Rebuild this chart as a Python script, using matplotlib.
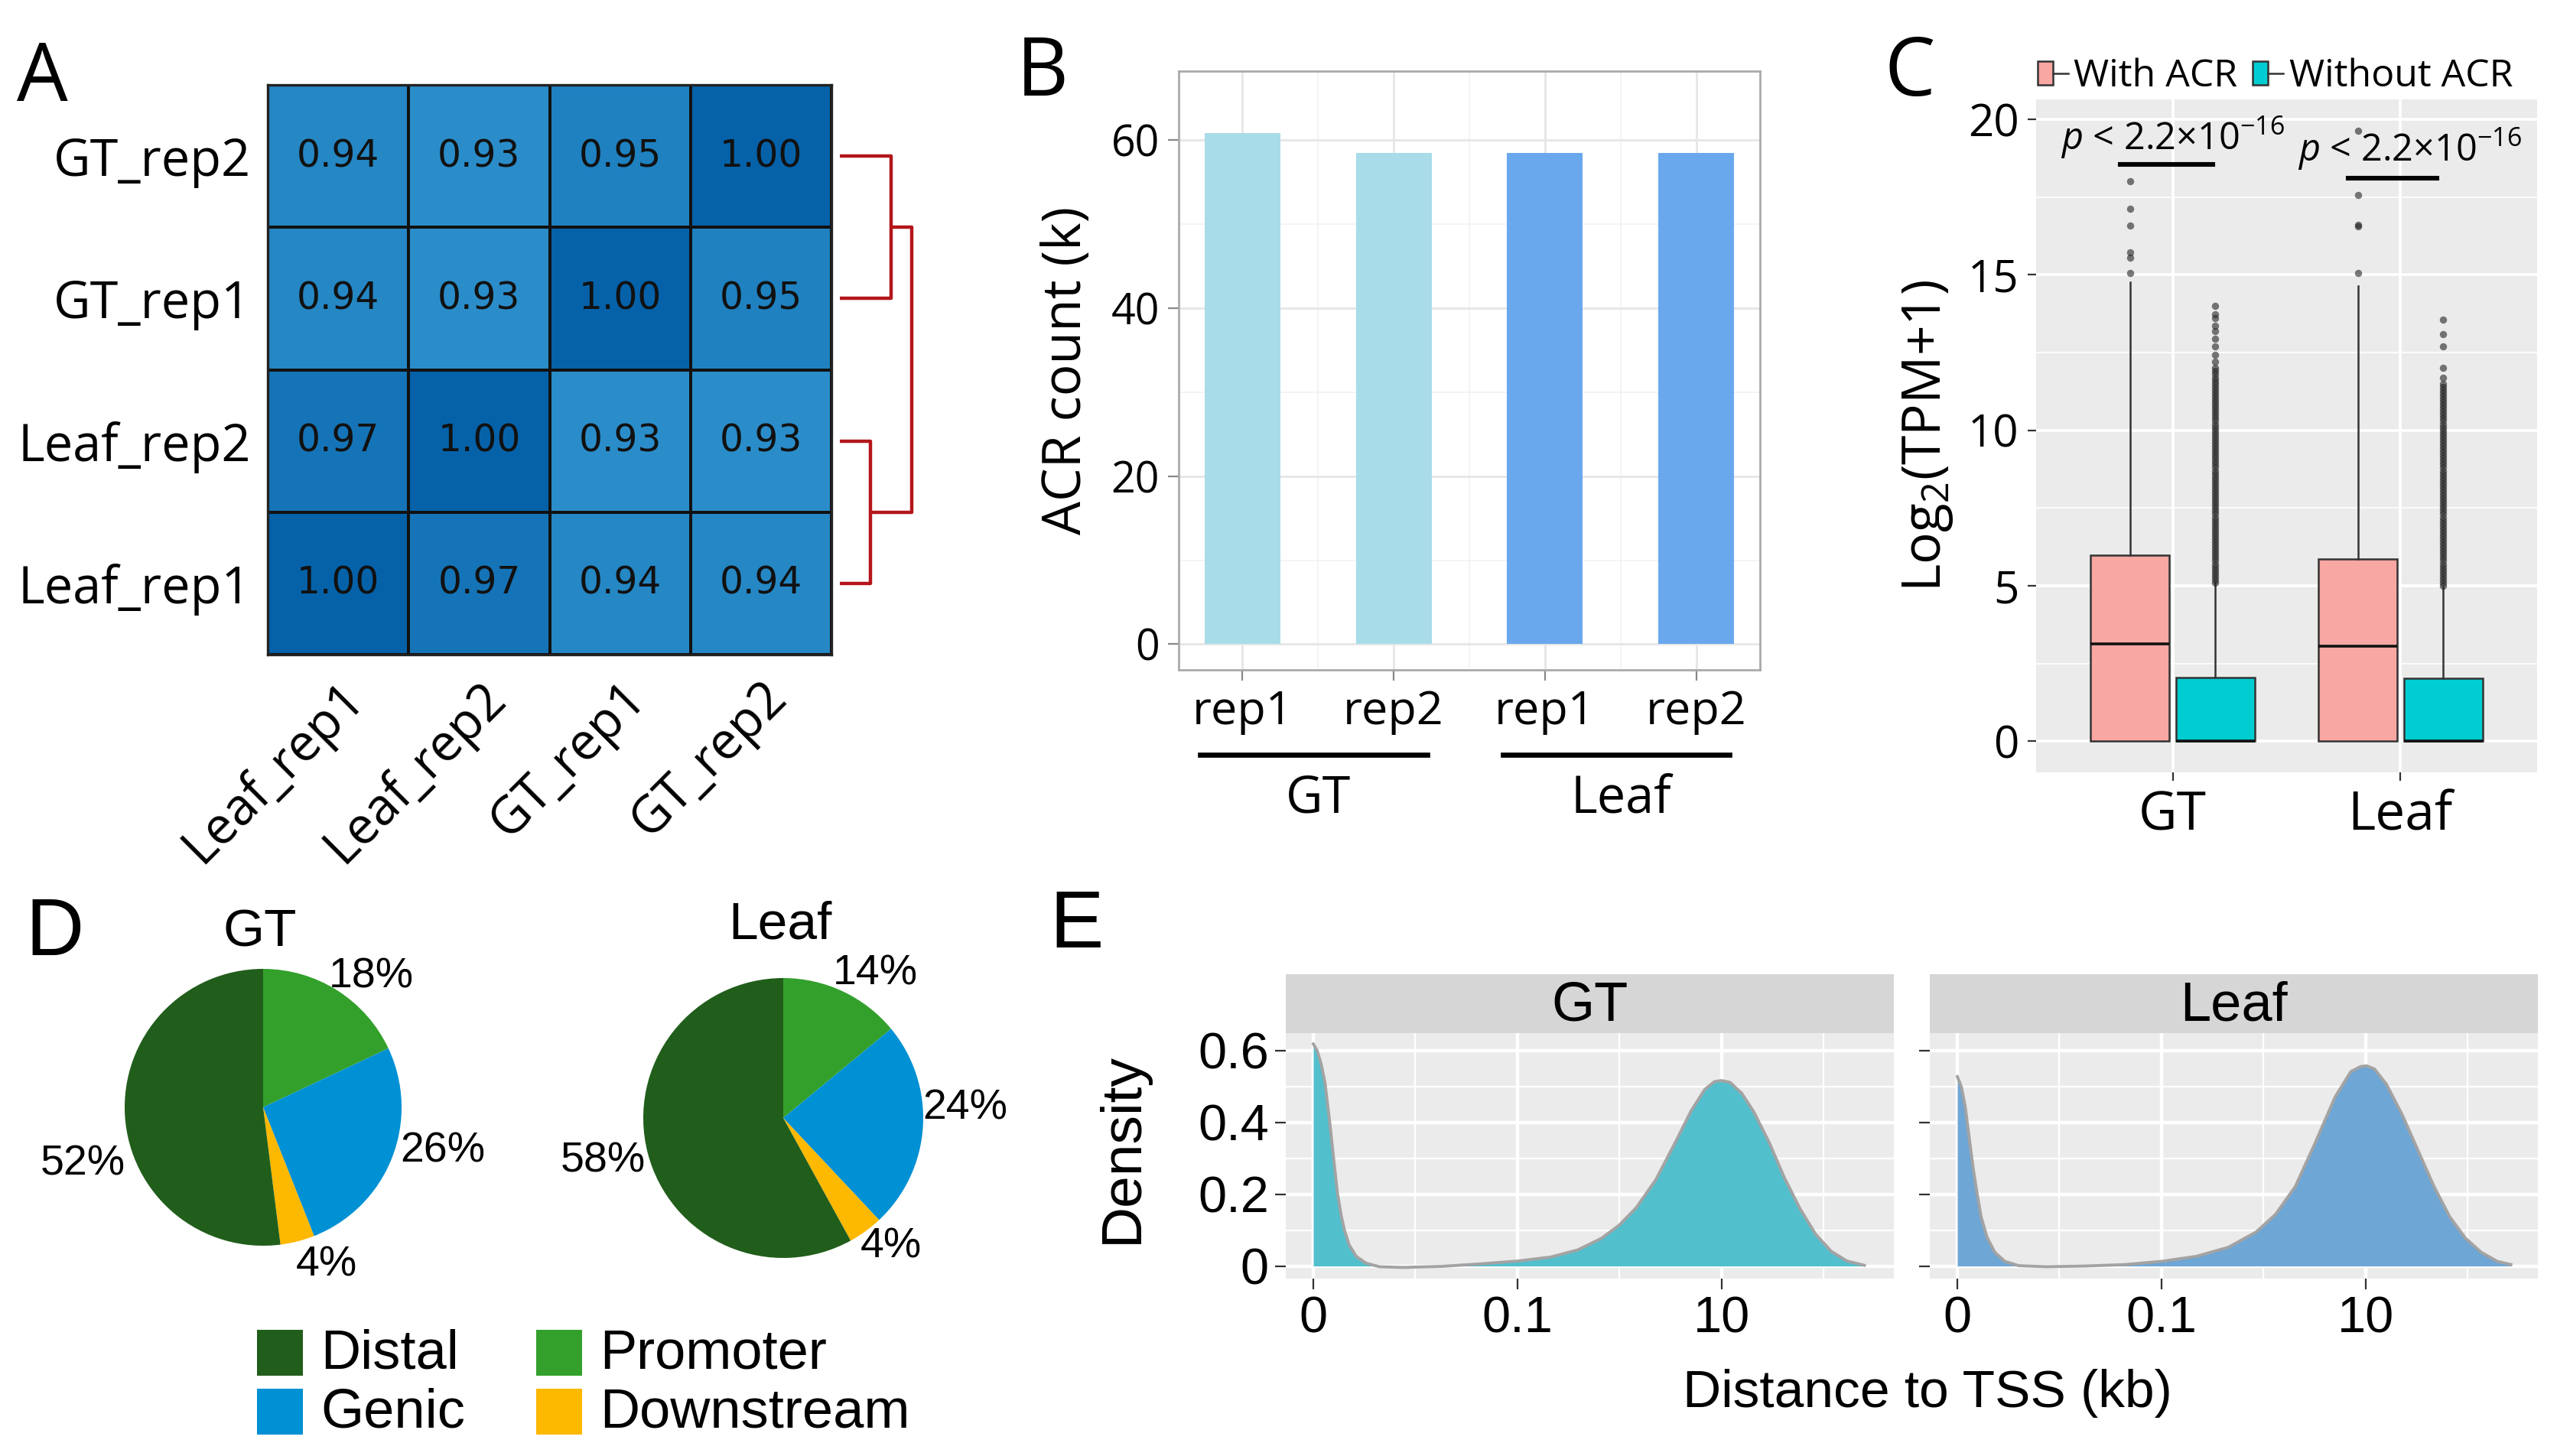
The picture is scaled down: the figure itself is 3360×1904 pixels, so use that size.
import numpy as np
import matplotlib
matplotlib.use('Agg')
import matplotlib.pyplot as plt
from matplotlib.colors import LinearSegmentedColormap, Normalize
from matplotlib.patches import Rectangle, Patch
from matplotlib.lines import Line2D
from matplotlib.legend_handler import HandlerTuple

plt.rcParams['font.family'] = ['Open Sans', 'DejaVu Sans']
plt.rcParams['mathtext.fontset'] = 'custom'
plt.rcParams['mathtext.rm'] = 'Open Sans'
plt.rcParams['mathtext.it'] = 'Open Sans:italic'

# ---- data ----
# A: correlation heatmap
hm_rows = ['GT_rep2', 'GT_rep1', 'Leaf_rep2', 'Leaf_rep1']
hm_cols = ['Leaf_rep1', 'Leaf_rep2', 'GT_rep1', 'GT_rep2']
hm_vals = [[0.94, 0.93, 0.95, 1.00],
           [0.94, 0.93, 1.00, 0.95],
           [0.97, 1.00, 0.93, 0.93],
           [1.00, 0.97, 0.94, 0.94]]
# dendrogram merge heights
leaf_join = 0.03
gt_join = 0.05
root_join = 0.07

# B: ACR counts (k)
b_reps = ['rep1', 'rep2', 'rep1', 'rep2']
b_groups = ['GT', 'Leaf']
acr_counts = [60.8, 58.5, 58.5, 58.5]

# C: boxplots log2(TPM+1)
c_groups = ['GT', 'Leaf']
with_q1 = [0, 0]
with_med = [3.12, 3.05]
with_q3 = [5.98, 5.86]
with_hi = [14.77, 14.63]
with_fliers = [[15.05, 15.56, 15.72, 16.59, 17.13, 18.01],
               [15.07, 16.56, 16.6, 17.57, 19.63]]
without_q1 = [0, 0]
without_med = [0, 0]
without_q3 = [2.05, 2.02]
without_hi = [5.09, 4.95]
without_fliers = [
    [5.1, 5.2, 5.3, 5.4, 5.5, 5.6, 5.7, 5.8, 5.9, 6.0, 6.1, 6.2, 6.3, 6.4, 6.5,
     6.6, 6.7, 6.8, 6.9, 7.0, 7.1, 7.2, 7.3, 7.4, 7.5, 7.6, 7.7, 7.8, 7.9, 8.0,
     8.1, 8.2, 8.3, 8.4, 8.5, 8.6, 8.7, 8.8, 8.9, 9.0, 9.1, 9.2, 9.3, 9.4, 9.5,
     9.6, 9.7, 9.8, 9.9, 10.0, 10.1, 10.2, 10.3, 10.4, 10.5, 10.6, 10.7, 10.8,
     10.9, 11.0, 11.1, 11.2, 11.3, 11.4, 11.5, 11.6, 11.7, 11.8, 11.9, 12.0,
     12.2, 12.43, 12.7, 12.94, 13.2, 13.36, 13.6, 13.74, 14.0],
    [5.0, 5.1, 5.2, 5.3, 5.4, 5.5, 5.6, 5.7, 5.8, 5.9, 6.0, 6.1, 6.2, 6.3, 6.4,
     6.5, 6.6, 6.7, 6.8, 6.9, 7.0, 7.1, 7.2, 7.3, 7.4, 7.5, 7.6, 7.7, 7.8, 7.9,
     8.0, 8.1, 8.2, 8.3, 8.4, 8.5, 8.6, 8.7, 8.8, 8.9, 9.0, 9.1, 9.2, 9.3, 9.4,
     9.5, 9.6, 9.7, 9.8, 9.9, 10.0, 10.1, 10.2, 10.3, 10.4, 10.5, 10.6, 10.7,
     10.8, 10.9, 11.0, 11.1, 11.2, 11.3, 11.4, 11.5, 11.68, 12.0, 12.7, 13.08,
     13.55]]
p_text = r'$p$ < 2.2×10$^{-16}$'

# D: pies
pie_cats = ['Promoter', 'Genic', 'Downstream', 'Distal']
gt_pct = [18, 26, 4, 52]
leaf_pct = [14, 24, 4, 58]

# E: density of distance to TSS (x = log10(kb + 0.001))
gt_x = [-3.0, -2.962, -2.924, -2.885, -2.84, -2.802, -2.763, -2.725, -2.695,
        -2.649, -2.58, -2.485, -2.351, -2.122, -1.74, -1.359, -0.989, -0.672,
        -0.405, -0.176, -0.004, 0.168, 0.359, 0.55, 0.702, 0.836, 0.931, 1.0,
        1.084, 1.198, 1.313, 1.466, 1.618, 1.771, 1.924, 2.076, 2.229, 2.401]
gt_y = [0.618, 0.599, 0.563, 0.509, 0.402, 0.302, 0.202, 0.138, 0.1, 0.059,
        0.027, 0.008, -0.002, -0.004, -0.001, 0.006, 0.014, 0.025, 0.045,
        0.077, 0.113, 0.163, 0.241, 0.345, 0.431, 0.491, 0.513, 0.516, 0.511,
        0.481, 0.431, 0.345, 0.245, 0.159, 0.088, 0.041, 0.014, 0.002]
leaf_x = [-3.0, -2.961, -2.922, -2.884, -2.845, -2.806, -2.767, -2.709, -2.632,
          -2.535, -2.399, -2.128, -1.74, -1.353, -0.996, -0.655, -0.345,
          -0.074, 0.12, 0.314, 0.508, 0.702, 0.857, 0.953, 1.012, 1.089, 1.205,
          1.36, 1.516, 1.671, 1.826, 1.981, 2.136, 2.291, 2.426]
leaf_y = [0.527, 0.499, 0.442, 0.357, 0.272, 0.201, 0.137, 0.08, 0.038, 0.013,
          0.001, -0.002, 0.0, 0.004, 0.013, 0.027, 0.052, 0.094, 0.144, 0.222,
          0.343, 0.47, 0.541, 0.555, 0.557, 0.548, 0.506, 0.421, 0.321, 0.222,
          0.137, 0.077, 0.038, 0.013, 0.004]
e_ticks = [-3, -1, 1]
e_ticklabels = ['0', '0.1', '10']

# ---- figure ----
W, H = 3360, 1904
fig = plt.figure(figsize=(W / 200, H / 200), dpi=200)


def box(l, t, r, b):
    return [l / W, 1 - b / H, (r - l) / W, (b - t) / H]


def fx(x):
    return x / W


def fy(y):
    return 1 - y / H


# ---------- A ----------
ax = fig.add_axes(box(350, 111, 1087, 856))
cmap = LinearSegmentedColormap.from_list('hm', ['#2A8DC9', '#0562A9'])
norm = Normalize(0.93, 1.0)
vals = np.array(hm_vals)
ax.pcolormesh(np.arange(5), np.arange(5), vals, cmap=cmap, norm=norm,
              edgecolors='#111111', linewidth=1.3)
ax.set_xlim(0, 4)
ax.set_ylim(4, 0)
for i in range(4):
    for j in range(4):
        ax.text(j + 0.5, i + 0.5, f'{vals[i, j]:.2f}', ha='center', va='center',
                fontsize=17.5, family='DejaVu Sans', color='#111111')
ax.set_yticks(np.arange(4) + 0.5)
ax.set_yticklabels(hm_rows, fontsize=24)
ax.set_xticks(np.arange(4) + 0.5)
ax.set_xticklabels(hm_cols, fontsize=24, rotation=45, ha='right',
                   rotation_mode='anchor')
ax.tick_params(length=0, pad=8)
for s in ax.spines.values():
    s.set_color('#222222')
    s.set_linewidth(1.2)

# dendrogram
axd = fig.add_axes(box(1098, 111, 1192, 856))
axd.set_xlim(0, root_join)
axd.set_ylim(4, 0)
axd.axis('off')
red = '#B3161B'
lk = dict(color=red, lw=1.6, clip_on=False, solid_capstyle='butt')
axd.plot([0, gt_join, gt_join, 0], [0.5, 0.5, 1.5, 1.5], **lk)
axd.plot([0, leaf_join, leaf_join, 0], [2.5, 2.5, 3.5, 3.5], **lk)
axd.plot([gt_join, root_join, root_join, leaf_join], [1.0, 1.0, 3.0, 3.0], **lk)

# ---------- B ----------
ax = fig.add_axes(box(1541, 93, 2301, 876))
xb = np.arange(1, 5)
ax.bar(xb, acr_counts, width=0.5,
       color=['#A8DCE8', '#A8DCE8', '#6AA8EE', '#6AA8EE'], zorder=3)
ax.set_xlim(0.58, 4.42)
ax.set_ylim(-3.05, 68.2)
ax.set_yticks([0, 20, 40, 60])
ax.set_yticks([10, 30, 50], minor=True)
ax.set_xticks(xb)
ax.set_xticks([1.5, 2.5, 3.5], minor=True)
ax.set_xticklabels(b_reps, fontsize=22)
ax.tick_params(axis='y', labelsize=20)
ax.tick_params(which='major', length=5, color='#888888', pad=4)
ax.tick_params(which='minor', length=0)
ax.grid(which='major', color='#E6E6E6', lw=1.0, zorder=0)
ax.grid(which='minor', color='#F2F2F2', lw=0.6, zorder=0)
for s in ax.spines.values():
    s.set_color('#AAAAAA')
    s.set_linewidth(1.0)
ax.set_ylabel('ACR count (k)', fontsize=25, labelpad=8)
trans = ax.get_xaxis_transform()
for k, g in enumerate(b_groups):
    c = 1.5 + 2 * k
    ax.plot([c - 0.78, c + 0.72], [-0.142, -0.142], color='black', lw=2.4,
            transform=trans, clip_on=False)
    ax.text(c, -0.216, g, ha='center', va='center', fontsize=24,
            transform=trans)

# ---------- C ----------
ax = fig.add_axes(box(2662, 130, 3317, 1010))
ax.set_facecolor('#EBEBEB')
off = 0.1875
bw = 0.345


def stats(q1, med, q3, hi, fl):
    return [dict(q1=q1[k], med=med[k], q3=q3[k], whislo=0, whishi=hi[k],
                 fliers=fl[k]) for k in range(len(q1))]


flier = dict(marker='o', markerfacecolor='#222222', markeredgecolor='none',
             markersize=3.4, alpha=0.6)
common = dict(widths=bw, patch_artist=True, showcaps=False, zorder=3,
              whiskerprops=dict(color='#333333', lw=0.9),
              medianprops=dict(color='#111111', lw=1.3),
              flierprops=flier, manage_ticks=False)
ax.bxp(stats(with_q1, with_med, with_q3, with_hi, with_fliers),
       positions=[1 - off, 2 - off],
       boxprops=dict(facecolor='#F9A7A3', edgecolor='#333333', lw=0.9),
       **common)
ax.bxp(stats(without_q1, without_med, without_q3, without_hi, without_fliers),
       positions=[1 + off, 2 + off],
       boxprops=dict(facecolor='#00CDD1', edgecolor='#333333', lw=0.9),
       **common)
ax.set_xlim(0.4, 2.6)
ax.set_ylim(-1.0, 20.64)
ax.set_xticks([1, 2])
ax.set_xticklabels(c_groups, fontsize=25)
ax.set_yticks([0, 5, 10, 15, 20])
ax.set_yticks([2.5, 7.5, 12.5, 17.5], minor=True)
ax.tick_params(axis='y', labelsize=21)
ax.tick_params(which='major', length=4, color='#333333', pad=4)
ax.tick_params(which='minor', length=0)
ax.grid(which='major', color='white', lw=1.3, zorder=0)
ax.grid(which='minor', axis='y', color='white', lw=0.6, zorder=0)
ax.set_axisbelow(True)
for s in ax.spines.values():
    s.set_visible(False)
ax.set_ylabel(r'Log$_2$(TPM+1)', fontsize=25, labelpad=6)
ax.plot([0.77, 1.175], [18.55, 18.55], color='black', lw=2.2, zorder=4)
ax.plot([1.77, 2.16], [18.1, 18.1], color='black', lw=2.2, zorder=4)
ax.text(1.0, 19.4, p_text, ha='center', va='center', fontsize=17.5)
ax.text(2.04, 19.05, p_text, ha='center', va='center', fontsize=17.5)
mid = Line2D([], [], color='#333333', lw=0.9)
handles = [(Patch(facecolor='#F9A7A3', edgecolor='#333333', lw=0.9), mid),
           (Patch(facecolor='#00CDD1', edgecolor='#333333', lw=0.9), mid)]
ax.legend(handles, ['With ACR', 'Without ACR'], loc='lower left',
          bbox_to_anchor=(-0.005, 1.0), ncol=2, frameon=False, fontsize=18,
          handler_map={tuple: HandlerTuple(ndivide=None, pad=0)},
          handlelength=0.8, handleheight=0.6, handletextpad=0.15,
          columnspacing=0.4, borderaxespad=0.1, borderpad=0)

# ---------- D ----------
pie_colors = ['#33A02C', '#0090D4', '#FDB800', '#215E1B']
pies = [(344, 1448, 181, gt_pct, 'GT', (340, 1220),
         [(0.78, 0.94), (1.30, -0.32), (0.46, -1.14), (-1.30, -0.41)]),
        (1024, 1462, 183, leaf_pct, 'Leaf', (1020, 1210),
         [(0.66, 1.03), (1.30, 0.07), (0.77, -0.92), (-1.29, -0.31)])]
for cx, cy, r, pct, title, tpos, lpos in pies:
    axp = fig.add_axes(box(cx - r, cy - r, cx + r, cy + r))
    axp.pie(pct, colors=pie_colors, startangle=90, counterclock=False,
            radius=1, wedgeprops=dict(edgecolor='none'))
    axp.set_xlim(-1, 1)
    axp.set_ylim(-1, 1)
    axp.axis('off')
    for v, (lx, ly) in zip(pct, lpos):
        axp.text(lx, ly, f'{v}%', ha='center', va='center', fontsize=20,
                 family='Liberation Sans', clip_on=False)
    fig.text(fx(tpos[0]), fy(tpos[1]), title, ha='center', va='center',
             fontsize=25, family='Liberation Sans')

leg_items = [('Distal', '#215E1B', 336, 1739), ('Promoter', '#33A02C', 701, 1739),
             ('Genic', '#0090D4', 336, 1816), ('Downstream', '#FDB800', 701, 1816)]
for name, col, lx, ty in leg_items:
    fig.add_artist(Rectangle((fx(lx), fy(ty + 60)), 60 / W, 60 / H,
                             transform=fig.transFigure, facecolor=col,
                             edgecolor='none'))
    fig.text(fx(lx + 83), fy(ty + 32), name, ha='left', va='center',
             fontsize=26, family='Liberation Sans')

# ---------- E ----------
e_panels = [('GT', gt_x, gt_y, '#52BFCD', 1681, 2476),
            ('Leaf', leaf_x, leaf_y, '#6EA6D5', 2523, 3318)]
for k, (name, xs, ys, col, l, r) in enumerate(e_panels):
    ax = fig.add_axes(box(l, 1351, r, 1672))
    ax.set_facecolor('#EBEBEB')
    ax.fill_between(xs, ys, 0, color=col, lw=0, zorder=3)
    ax.plot(xs, ys, color='#A3A3A3', lw=1.4, zorder=4)
    ax.set_xlim(-3.27, 2.69)
    ax.set_ylim(-0.035, 0.648)
    ax.set_xticks(e_ticks)
    ax.set_xticklabels(e_ticklabels, fontsize=24, family='Liberation Sans')
    ax.set_xticks([-2, 0, 2], minor=True)
    ax.set_yticks([0, 0.2, 0.4, 0.6])
    ax.set_yticks([0.1, 0.3, 0.5], minor=True)
    if k == 0:
        ax.set_yticklabels(['0', '0.2', '0.4', '0.6'], fontsize=24,
                           family='Liberation Sans')
    else:
        ax.set_yticklabels([])
    ax.tick_params(which='major', length=5, color='#333333', pad=3)
    ax.tick_params(which='minor', length=0)
    ax.grid(which='major', color='white', lw=1.6, zorder=0)
    ax.grid(which='minor', color='white', lw=0.8, zorder=0)
    ax.set_axisbelow(True)
    for s in ax.spines.values():
        s.set_visible(False)
    strip = fig.add_axes(box(l, 1274, r, 1351))
    strip.set_facecolor('#D6D6D6')
    strip.set_xticks([])
    strip.set_yticks([])
    for s in strip.spines.values():
        s.set_visible(False)
    strip.text(0.5, 0.45, name, ha='center', va='center', fontsize=26,
               family='Liberation Sans', transform=strip.transAxes)

fig.text(fx(1467), fy(1501), 'Density', rotation=90, ha='center', va='center',
         fontsize=27, family='Liberation Sans')
fig.text(fx(2520), fy(1822), 'Distance to TSS (kb)', ha='center', va='center',
         fontsize=25, family='Liberation Sans')

# panel letters
for letter, lx, by, fam in [('A', 22, 132, 'Open Sans'), ('B', 1329, 125, 'Open Sans'),
                            ('C', 2464, 125, 'Open Sans'),
                            ('D', 33, 1249, 'Liberation Sans'),
                            ('E', 1372, 1239, 'Liberation Sans')]:
    fig.text(fx(lx), fy(by), letter, ha='left', va='baseline', fontsize=38,
             family=fam)

fig.savefig('out.png', dpi=200, facecolor='white')
